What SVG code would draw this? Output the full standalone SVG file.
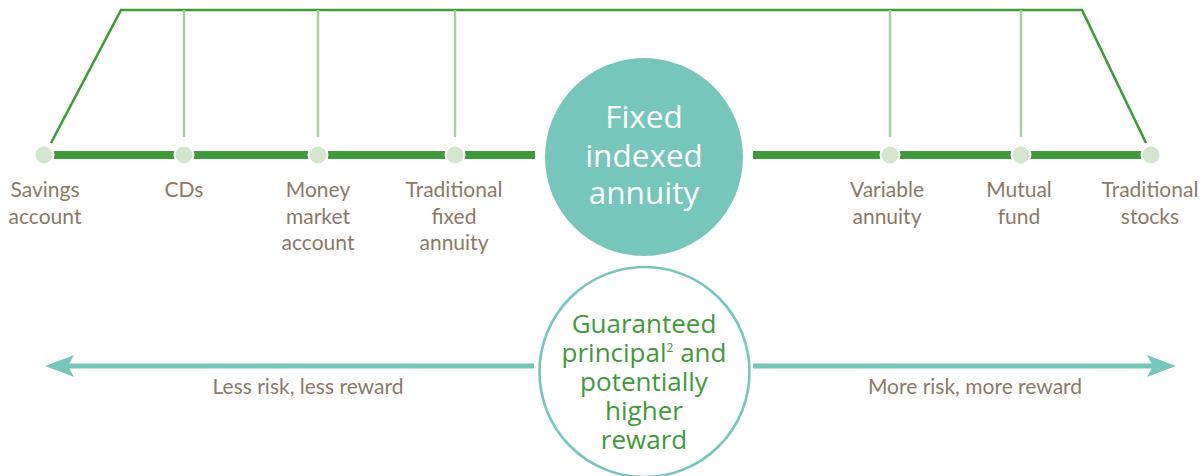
<svg xmlns="http://www.w3.org/2000/svg" width="1203" height="476" viewBox="0 0 1203 476">
<defs>
<style>
.lbl{font-family:Lato,"Open Sans","Liberation Sans",sans-serif;font-size:21px;fill:#8b7967;text-anchor:middle}
.big{font-family:"Open Sans","Noto Sans","Liberation Sans",sans-serif;font-size:31.5px;fill:#ffffff;text-anchor:middle}
.grn{font-family:"Open Sans","Noto Sans","Liberation Sans",sans-serif;font-size:26px;fill:#3f9a3a;text-anchor:middle}
.frame{fill:none;stroke:#3f9a3a;stroke-width:2.6}
.tick{stroke:#a3cf9c;stroke-width:2.4}
.main{stroke:#3f9a3a;stroke-width:8}
.dot{fill:#d3e5cf;stroke:#ffffff;stroke-width:2}
.arr{stroke:#76c6bb;stroke-width:5}
.head{fill:#76c6bb}
</style>
</defs>
<g id="connectors">
<polyline class="frame" points="51,143 121,10 1082,10 1146,143"/>
<line class="tick" x1="184" y1="10" x2="184" y2="137"/>
<line class="tick" x1="318" y1="10" x2="318" y2="137"/>
<line class="tick" x1="455" y1="10" x2="455" y2="137"/>
<line class="tick" x1="890" y1="10" x2="890" y2="137"/>
<line class="tick" x1="1021" y1="10" x2="1021" y2="137"/>
<line class="main" x1="44" y1="155" x2="535" y2="155"/>
<line class="main" x1="753" y1="155" x2="1150" y2="155"/>
<line class="arr" x1="66" y1="366" x2="534" y2="366"/>
<polygon class="head" points="45,366 74,355 68,366 74,377"/>
<line class="arr" x1="753" y1="366" x2="1155" y2="366"/>
<polygon class="head" points="1176,366 1147,355 1153,366 1147,377"/>
<text class="lbl" x="308" y="394">Less risk, less reward</text>
<text class="lbl" x="975" y="394">More risk, more reward</text>
</g>
<g id="savings"><circle class="dot" cx="44" cy="155" r="9.5"/><text class="lbl" x="45" y="197">Savings</text><text class="lbl" x="45" y="224">account</text></g>
<g id="cds"><circle class="dot" cx="184" cy="155" r="9.5"/><text class="lbl" x="184" y="197">CDs</text></g>
<g id="money-market"><circle class="dot" cx="318" cy="155" r="9.5"/><text class="lbl" x="318" y="197">Money</text><text class="lbl" x="318" y="224">market</text><text class="lbl" x="318" y="250">account</text></g>
<g id="trad-fixed"><circle class="dot" cx="455" cy="155" r="9.5"/><text class="lbl" x="454" y="197">Traditional</text><text class="lbl" x="454" y="224">fixed</text><text class="lbl" x="454" y="250">annuity</text></g>
<g id="fia"><circle cx="644" cy="157" r="99" fill="#76c6bb"/><text class="big" x="644" y="128">Fixed</text><text class="big" x="644" y="167">indexed</text><text class="big" x="644" y="204">annuity</text></g>
<g id="variable"><circle class="dot" cx="890" cy="155" r="9.5"/><text class="lbl" x="887" y="197">Variable</text><text class="lbl" x="887" y="224">annuity</text></g>
<g id="mutual"><circle class="dot" cx="1021" cy="155" r="9.5"/><text class="lbl" x="1019" y="197">Mutual</text><text class="lbl" x="1019" y="224">fund</text></g>
<g id="stocks"><circle class="dot" cx="1151" cy="155" r="9.5"/><text class="lbl" x="1150" y="197">Traditional</text><text class="lbl" x="1150" y="224">stocks</text></g>
<g id="guaranteed"><circle cx="644.5" cy="372" r="105" fill="#ffffff" stroke="#76c6bb" stroke-width="2.6"/>
<text class="grn" x="644" y="333">Guaranteed</text>
<text class="grn" x="644" y="362">principal<tspan font-size="12" dy="-10">2</tspan><tspan dy="10"> and</tspan></text>
<text class="grn" x="644" y="391">potentially</text>
<text class="grn" x="644" y="420">higher</text>
<text class="grn" x="644" y="449">reward</text>
</g>
</svg>
